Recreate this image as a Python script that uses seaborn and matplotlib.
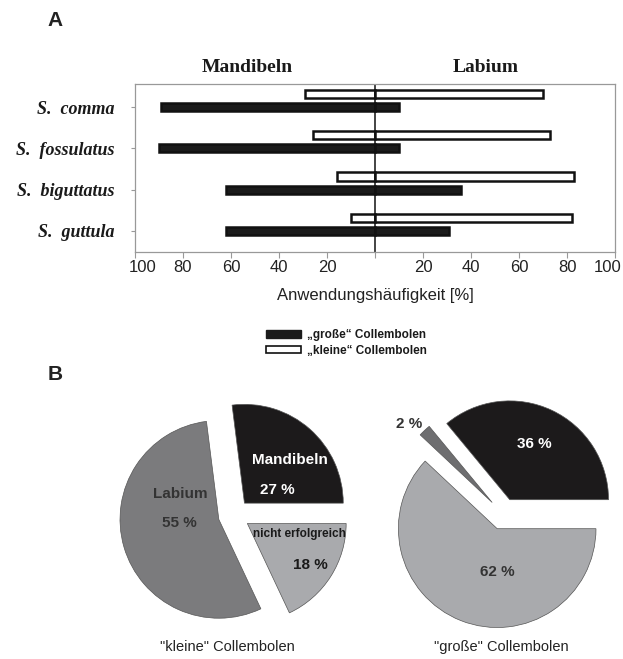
import matplotlib.pyplot as plt
import matplotlib.transforms as mtransforms
import seaborn as sns
import pandas as pd
from matplotlib.patches import Patch

# Teil A: Anwendungshaeufigkeit von Mandibeln / Labium
arten = ['S.  comma', 'S.  fossulatus', 'S.  biguttatus', 'S.  guttula']
gruppen = ['klein', 'gross']
klein_mandibeln = [29, 26, 16, 10]
klein_labium = [70, 73, 83, 82]
gross_mandibeln = [89, 90, 62, 62]
gross_labium = [10, 10, 36, 31]
x_ticks = [-100, -80, -60, -40, -20, 0, 20, 40, 60, 80, 100]
x_ticklabels = ['100', '80', '60', '40', '20', '', '20', '40', '60', '80', '100']
legend_labels = ['\u201egro\u00dfe\u201c Collembolen', '\u201ekleine\u201c Collembolen']

# Teil B: Fangerfolg
kleine_namen = ['Mandibeln', 'nicht erfolgreich', 'Labium']
kleine_werte = [27, 18, 55]
grosse_namen = ['Mandibeln', 'Labium', 'nicht erfolgreich']
grosse_werte = [36, 2, 62]

sns.set_theme(style='white')
plt.rcParams['font.family'] = ['Liberation Sans', 'DejaVu Sans']

W, H = 623, 659
fig = plt.figure(figsize=(W / 100, H / 100), dpi=100)

# ---- A ----
ax = fig.add_axes([135 / W, 1 - 252 / H, 480 / W, 168 / H])

df = pd.DataFrame({
    'art': arten * 2,
    'gruppe': ['klein'] * 4 + ['gross'] * 4,
    'mandibeln': klein_mandibeln + gross_mandibeln,
    'labium': klein_labium + gross_labium,
})
df['links'] = -df['mandibeln']
farben = {'klein': 'white', 'gross': '#1b1b1b'}

for col in ['links', 'labium']:
    sns.barplot(data=df, x=col, y='art', hue='gruppe', hue_order=gruppen,
                palette=farben, orient='h', width=0.64, gap=0.38,
                edgecolor='#111111', linewidth=1.8, errorbar=None,
                legend=False, ax=ax)

ax.axvline(0, color='#111111', lw=1.1)
ax.set_xlim(-100, 100)
ax.set_ylim(3.67, -0.40)
ax.set_xticks(x_ticks, x_ticklabels)
ax.set_yticks([i + 0.16 for i in range(len(arten))], arten)
for t in ax.get_yticklabels():
    t.set_family('Liberation Serif')
    t.set_weight('bold')
    t.set_style('italic')
    t.set_fontsize(13)
    t.set_color('#1a1a1a')
ax.tick_params(axis='x', bottom=True, length=4, width=0.8, color='#999999',
               labelsize=12, labelcolor='#222222', pad=2)
ax.tick_params(axis='y', left=True, length=3, width=0.8, color='#999999', pad=12)
ax.set_xlabel('Anwendungsh\u00e4ufigkeit [%]', fontsize=12, color='#222222', labelpad=9)
ax.set_ylabel('')
for s in ax.spines.values():
    s.set_color('#999999')
    s.set_linewidth(0.9)

# aeussere Beschriftungen etwas nach innen ruecken (wie im Original)
xlabels = ax.get_xticklabels()
xlabels[0].set_transform(xlabels[0].get_transform() +
                         mtransforms.ScaledTranslation(8 / 100, 0, fig.dpi_scale_trans))
xlabels[-1].set_transform(xlabels[-1].get_transform() +
                          mtransforms.ScaledTranslation(-7 / 100, 0, fig.dpi_scale_trans))

fig.text(247 / W, 1 - 68 / H, 'Mandibeln', ha='center', va='center',
         family='Liberation Serif', weight='bold', fontsize=14, color='#1a1a1a')
fig.text(486 / W, 1 - 68 / H, 'Labium', ha='center', va='center',
         family='Liberation Serif', weight='bold', fontsize=14, color='#1a1a1a')
fig.text(55 / W, 1 - 20 / H, 'A', ha='center', va='center', weight='bold', fontsize=15, color='#222222')
fig.text(55 / W, 1 - 375 / H, 'B', ha='center', va='center', weight='bold', fontsize=15, color='#222222')

handles = [Patch(facecolor='#1b1b1b', edgecolor='#1b1b1b'),
           Patch(facecolor='white', edgecolor='#111111', linewidth=1.2)]
leg = fig.legend(handles, legend_labels, loc='upper left',
                 bbox_to_anchor=(266 / W, 1 - 329 / H), frameon=False,
                 prop={'weight': 'bold', 'size': 8.5}, handlelength=3.0,
                 handleheight=0.6, handletextpad=0.5, labelspacing=0.3,
                 borderpad=0, borderaxespad=0)
for t in leg.get_texts():
    t.set_color('#1a1a1a')

# ---- B ----
R = 95
hell = '#a9aaad'
mittel = '#7b7b7d'
dunkel = '#1c1a1b'


def pie_axes(cx, cy):
    half = 1.3 * R
    a = fig.add_axes([(cx - half) / W, 1 - (cy + half) / H, 2 * half / W, 2 * half / H])
    a.set_xlim(-1.3, 1.3)
    a.set_ylim(-1.3, 1.3)
    a.set_aspect('equal')
    a.axis('off')
    return a


ax1 = pie_axes(234, 515)
ax1.pie(kleine_werte, colors=[dunkel, hell, mittel], startangle=97.2,
        counterclock=False, explode=[0.16] * 3, radius=1,
        wedgeprops={'edgecolor': '#555555', 'linewidth': 0.5})
txt = dict(ha='center', va='center', weight='bold', fontsize=11)
ax1.text(0.57, 0.56, 'Mandibeln', color='white', **txt)
ax1.text(0.44, 0.25, f'{kleine_werte[0]} %', color='white', **txt)
ax1.text(-0.54, 0.21, 'Labium', color='#333333', **txt)
ax1.text(-0.55, -0.08, f'{kleine_werte[2]} %', color='#333333', **txt)
ax1.text(0.66, -0.19, 'nicht erfolgreich', color='#1a1a1a', ha='center',
         va='center', weight='bold', fontsize=8.5)
ax1.text(0.77, -0.51, f'{kleine_werte[1]} %', color='#1a1a1a', **txt)

ax2 = pie_axes(503, 514)
ax2.pie(grosse_werte, colors=[dunkel, '#6e6e70', hell], startangle=0,
        counterclock=True, explode=[0.16] * 3, radius=1,
        wedgeprops={'edgecolor': '#555555', 'linewidth': 0.5})
ax2.text(0.32, 0.71, f'{grosse_werte[0]} %', color='white', **txt)
ax2.text(-0.06, -0.59, f'{grosse_werte[2]} %', color='#333333', **txt)
ax2.text(-0.95, 0.91, f'{grosse_werte[1]} %', color='#333333', **txt)

fig.text(227 / W, 1 - 647 / H, '"kleine" Collembolen', ha='center', va='center',
         fontsize=10.5, color='#222222')
fig.text(501 / W, 1 - 647 / H, '"gro\u00dfe" Collembolen', ha='center', va='center',
         fontsize=10.5, color='#222222')

fig.savefig('out.png', dpi=100)
plt.close(fig)
